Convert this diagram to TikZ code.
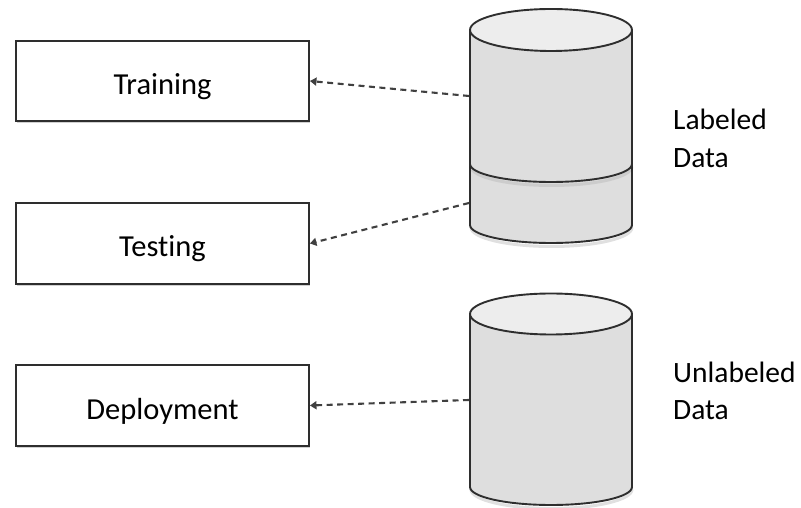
\documentclass[tikz,border=0pt]{standalone}
\usepackage{fontspec}
\setmainfont{Carlito}[RawFeature=-liga]
\usetikzlibrary{arrows.meta,shadows}
\definecolor{edge}{HTML}{2E2E2E}
\definecolor{body}{HTML}{DEDEDE}
\definecolor{lid}{HTML}{EDEDED}
\definecolor{link}{HTML}{404040}
\tikzset{
  stagebox/.style={draw=edge, line width=1.9pt, fill=white, minimum width=293pt,
    minimum height=80pt, inner sep=0pt, font=\fontsize{30.5}{36}\selectfont,
    drop shadow={shadow xshift=0.6pt, shadow yshift=-1.6pt, opacity=0.3, fill=black!60}},
  datalabel/.style={align=left, anchor=west, inner sep=0pt,
    font=\fontsize{29.5}{37.5}\selectfont},
  feed/.style={draw=link, line width=2.1pt, dash pattern=on 6pt off 4.5pt,
    -{Triangle[length=6.5pt,width=8pt]}},
  cylline/.style={draw=edge, line width=1.9pt},
  cylshadow/.style={draw=black, opacity=0.12, line width=3pt}
}
% box captions sit a little below the box centre
\newcommand{\boxtext}[1]{\raisebox{-5.5pt}[\height][\depth]{#1}}
\begin{document}
\begin{tikzpicture}[x=1pt,y=1pt]
\useasboundingbox (0,0) rectangle (801,508);

% stage boxes
\node[stagebox] (train) at (162.5,427) {\boxtext{Training}};
\node[stagebox, minimum height=81pt] (test) at (162.5,264.5) {\boxtext{Testing}};
\node[stagebox, minimum height=81pt] (deploy) at (162.5,102.5) {\boxtext{Deployment}};

% labeled data store (two stacked sections)
\draw[cylshadow] (471,280.5) arc[start angle=180, end angle=360, x radius=80.5, y radius=19];
\fill[body] (470,478) -- (470,283) arc[start angle=180, end angle=360, x radius=81, y radius=18] -- (632,478) -- cycle;
\draw[cylline] (470,478) -- (470,283) arc[start angle=180, end angle=360, x radius=81, y radius=18] -- (632,478);
\draw[cylshadow, opacity=0.08] (471,341.5) arc[start angle=180, end angle=360, x radius=80.5, y radius=19];
\draw[cylline] (470,344) arc[start angle=180, end angle=360, x radius=81, y radius=18];
\filldraw[fill=lid, cylline] (551,478) ellipse [x radius=81, y radius=21];

% unlabeled data store
\draw[cylshadow] (471,18.5) arc[start angle=180, end angle=360, x radius=80.5, y radius=19];
\fill[body] (470,194) -- (470,21) arc[start angle=180, end angle=360, x radius=81, y radius=18] -- (632,194) -- cycle;
\draw[cylline] (470,194) -- (470,21) arc[start angle=180, end angle=360, x radius=81, y radius=18] -- (632,194);
\filldraw[fill=lid, cylline] (551,194) ellipse [x radius=81, y radius=20.5];

% store labels
\node[datalabel] (lab) at (673,369.5) {Labeled\\Data};
\node[datalabel] (unlab) at (673,117) {Unlabeled\\Data};

% data flow from the stores to the stages
\coordinate (trainsrc) at (469,412);
\coordinate (testsrc) at (469,305);
\coordinate (deploysrc) at (469,108);
\draw[feed] (trainsrc) -- (train.east);
\draw[feed] (testsrc) -- (test.east);
\draw[feed] (deploysrc) -- (deploy.east);
\end{tikzpicture}
\end{document}
